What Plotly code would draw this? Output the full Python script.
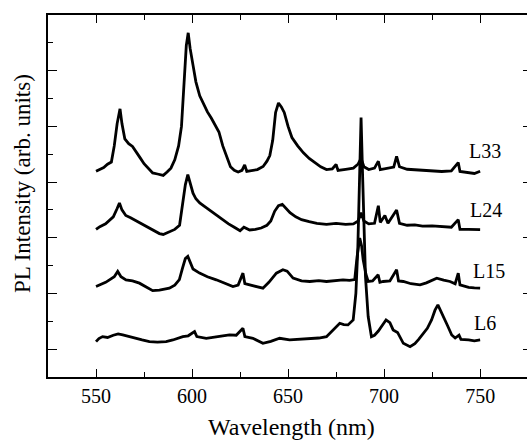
import plotly.graph_objects as go

# spectra (wavelength in nm, intensity in stacked arb. units)
wl_L33 = [550, 552, 554, 556, 558, 559.5, 561, 562.5, 563.5, 565, 567, 569, 571, 573, 575, 577, 579.5,
          582, 585, 587, 589, 591, 593, 594.5, 595.7, 597, 598, 599, 600.5, 602, 604, 606, 608, 610,
          612, 614, 616, 618, 620, 622, 624, 626, 627.4, 628.5, 631, 634, 637, 639, 640.5, 642, 643.5,
          645, 646.5, 648, 650, 652, 655, 658, 661, 664, 667, 670, 673, 675, 676, 680, 684, 686.5, 688,
          689.5, 692, 695, 697, 698, 702, 705, 706.5, 708, 712, 716, 720, 725, 730, 735, 738.6, 739.5,
          744, 747, 750]
int_L33 = [7.39, 7.47, 7.52, 7.64, 7.72, 8.3, 9.1, 9.63, 9.1, 8.55, 8.38, 8.28, 8.05, 7.87, 7.66, 7.52, 7.33,
           7.29, 7.24, 7.36, 7.5, 7.8, 8.3, 9.0, 10.5, 11.9, 12.36, 11.8, 11.2, 10.6, 10.1, 9.8, 9.52, 9.3,
           9.05, 8.8, 8.3, 7.9, 7.55, 7.42, 7.36, 7.42, 7.62, 7.38, 7.42, 7.45, 7.56, 7.75, 7.95, 8.5, 9.5,
           9.84, 9.7, 9.5, 9.0, 8.6, 8.3, 8.05, 7.85, 7.7, 7.55, 7.45, 7.47, 7.63, 7.42, 7.46, 7.5, 7.65, 7.85,
           7.55, 7.45, 7.5, 7.75, 7.45, 7.5, 7.54, 7.92, 7.55, 7.46, 7.44, 7.42, 7.41, 7.38, 7.4, 7.7, 7.38,
           7.35, 7.31, 7.39]

wl_L24 = [550, 552, 555, 557, 559, 561, 562.2, 563.5, 565.5, 568, 571, 574, 577, 580, 583, 585, 588, 591,
          593.5, 595, 596.5, 597.8, 599, 600.5, 602, 604, 607, 610, 613, 616, 619, 622, 625, 627, 630,
          633, 636, 639, 641, 643, 645, 647, 649, 651, 654, 657, 661, 665, 670, 675, 680, 684, 686.5,
          688, 689.5, 692, 695, 697, 698, 700.4, 702, 706.5, 708, 712, 716, 720, 725, 730, 735, 738.6,
          739.5, 744, 750]
int_L24 = [5.3, 5.4, 5.5, 5.62, 5.75, 6.05, 6.25, 6.0, 5.8, 5.72, 5.6, 5.5, 5.38, 5.25, 5.15, 5.12, 5.2, 5.3,
           5.45, 6.2, 6.9, 7.27, 7.0, 6.6, 6.4, 6.25, 6.1, 5.95, 5.8, 5.62, 5.5, 5.38, 5.25, 5.38, 5.28,
           5.3, 5.35, 5.45, 5.6, 5.95, 6.15, 6.2, 6.05, 5.9, 5.75, 5.65, 5.58, 5.52, 5.48, 5.52, 5.48, 5.5, 5.6,
           5.9, 5.6, 5.5, 5.52, 6.15, 5.55, 5.8, 5.52, 6.0, 5.52, 5.45, 5.46, 5.42, 5.43, 5.4, 5.38, 5.65,
           5.3, 5.3, 5.29]

wl_L15 = [550, 552, 555, 557, 559.5, 561.3, 563, 565.6, 569, 572.6, 576, 579.5, 583, 586, 588.2, 591, 593.4,
          595, 596.5, 597.8, 599, 600.5, 603.9, 608, 612.6, 617, 621.3, 624, 626.5, 627.5, 631, 634, 636.9,
          640, 643.9, 647.3, 649.5, 652.6, 657, 661.3, 666, 670, 674, 678.6, 682, 684.7, 685.9, 687.3,
          688.3, 689.1, 690.5, 691.7, 694, 696.9, 697.8, 699.5, 703, 706.5, 707.5, 710, 714, 718.7, 722,
          725, 727.4, 731, 734.3, 737, 738.6, 739.5, 744, 747, 750]
int_L15 = [3.25, 3.31, 3.4, 3.49, 3.6, 3.79, 3.6, 3.49, 3.45, 3.37, 3.25, 3.1, 3.12, 3.15, 3.19, 3.3, 3.5,
           3.9, 4.25, 4.33, 4.1, 3.88, 3.73, 3.6, 3.49, 3.38, 3.25, 3.3, 3.73, 3.35, 3.28, 3.22, 3.19,
           3.4, 3.73, 3.85, 3.8, 3.55, 3.45, 3.43, 3.46, 3.43, 3.45, 3.49, 3.47, 3.5, 4.3, 4.99,
           4.7, 4.21, 3.7, 3.43, 3.45, 3.67, 3.4, 3.43, 3.45, 3.85, 3.45, 3.43, 3.35, 3.31, 3.38,
           3.48, 3.55, 3.48, 3.43, 3.35, 3.73, 3.31, 3.22, 3.2, 3.19]

wl_L6 = [550, 551.5, 553.4, 556, 559, 561.5, 563.9, 567, 570, 574, 577.8, 582, 586.5, 590, 595.2, 598,
         601.3, 602.5, 607.4, 612, 616, 619.5, 623, 626.5, 627.5, 631.7, 636.9, 641, 645.6, 650.8, 656,
         661.3, 666, 670, 672.6, 675, 676.9, 679, 681.2, 683.9, 685.3, 686.3, 687.2, 688, 688.9, 689.6,
         690.3, 691.7, 693.4, 695, 697, 699, 701, 703, 704.7, 707, 710, 713.5, 716, 718, 720.4, 722.5,
         724.7, 726.5, 728, 729.5, 730.8, 733, 735.2, 737, 739, 740, 744, 747, 750]
int_L6 = [1.27, 1.38, 1.45, 1.42, 1.5, 1.55, 1.51, 1.45, 1.42, 1.33, 1.27, 1.25, 1.27, 1.33, 1.45, 1.48,
          1.63, 1.45, 1.39, 1.45, 1.48, 1.51, 1.5, 1.75, 1.45, 1.39, 1.21, 1.28, 1.39, 1.33, 1.35,
          1.39, 1.4, 1.45, 1.63, 1.8, 1.93, 1.88, 1.87, 2.05, 3.0, 4.6, 7.0, 9.32, 7.0, 5.0,
          3.6, 2.17, 1.45, 1.5, 1.65, 1.85, 2.05, 1.95, 1.69, 1.6, 1.21, 1.09, 1.2, 1.35, 1.57, 1.75,
          2.05, 2.4, 2.59, 2.35, 2.17, 1.85, 1.51, 1.4, 1.5, 1.35, 1.33, 1.3, 1.33]

labels = ["L33", "L24", "L15", "L6"]
label_x = [743, 743.7, 745.1, 745.6]
label_y = [8.1, 5.98, 3.79, 1.93]

font = "Liberation Serif, Times New Roman, serif"

fig = go.Figure()

for wl, inten in [(wl_L33, int_L33), (wl_L24, int_L24), (wl_L15, int_L15), (wl_L6, int_L6)]:
    fig.add_trace(go.Scatter(x=wl, y=inten, mode="lines",
                             line=dict(color="black", width=2.8), showlegend=False))

for name, lx, ly in zip(labels, label_x, label_y):
    fig.add_annotation(x=lx, y=ly, text=name, showarrow=False, xanchor="left", yanchor="middle",
                       font=dict(family=font, size=20, color="black"))

fig.add_annotation(xref="paper", yref="paper", x=(22 - 48) / 486, y=(377 - 184) / 362,
                   text="PL Intensity (arb. units)", textangle=-90, showarrow=False,
                   xanchor="center", yanchor="middle", font=dict(family=font, size=23, color="black"))
fig.add_annotation(xref="paper", yref="paper", x=(292.5 - 48) / 486, y=-(427 - 377) / 362,
                   text="Wavelength (nm)", showarrow=False,
                   xanchor="center", yanchor="middle", font=dict(family=font, size=24, color="black"))

# a bit wider than the window: the right frame line sits on the window edge
fig.update_layout(
    width=534, height=440,
    margin=dict(l=48, r=0, t=15, b=63),
    plot_bgcolor="white", paper_bgcolor="white",
    font=dict(family=font, size=20, color="black"),
    xaxis=dict(range=[525, 777], tick0=0, dtick=50, ticks="inside", ticklen=8, tickwidth=1.3,
               tickcolor="black", showline=True, linecolor="black", linewidth=1.6, mirror="allticks",
               showgrid=False, zeroline=False,
               minor=dict(dtick=25, ticks="inside", ticklen=5, tickwidth=1.3, tickcolor="black")),
    yaxis=dict(range=[0, 13], tick0=1, dtick=2, ticks="inside", ticklen=9, tickwidth=1.3,
               tickcolor="black", showticklabels=False, showline=True, linecolor="black",
               linewidth=1.6, mirror="allticks", showgrid=False, zeroline=False,
               minor=dict(dtick=1, ticks="inside", ticklen=5, tickwidth=1.3, tickcolor="black")),
)

# drop the browser's default 8px page margin so the figure fills the window
fig.write_html("out.html", config={"displayModeBar": False},
               post_script="document.body.style.margin='0px';document.body.style.overflow='hidden';")
